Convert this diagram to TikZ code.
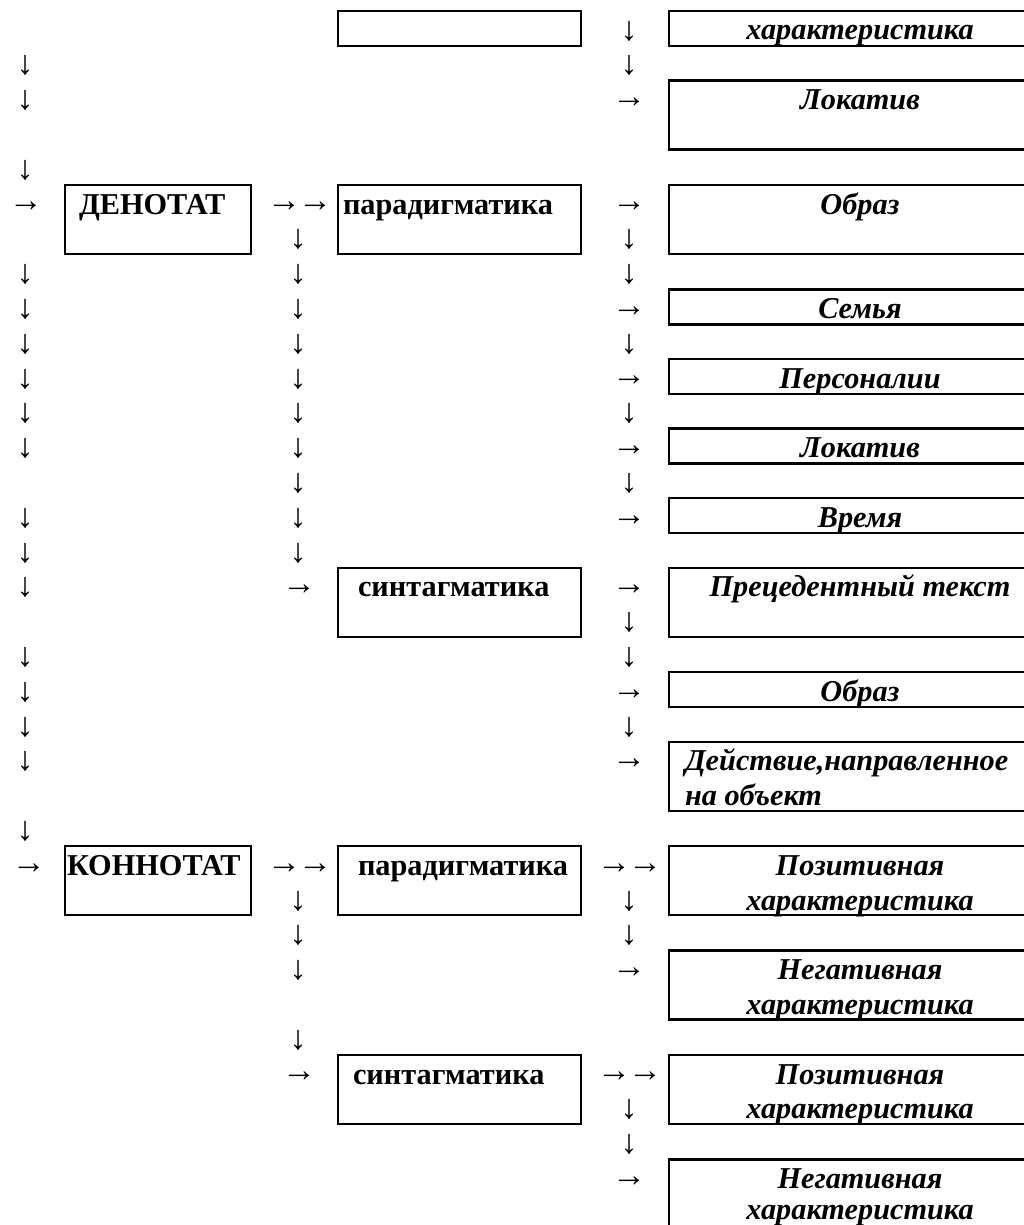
\documentclass[tikz,border=0pt]{standalone}
\usepackage{fontspec}
\setmainfont{Liberation Serif}
\begin{document}
\begin{tikzpicture}[x=1pt,y=-1pt,
  box/.style={draw, line width=2.5pt, inner sep=0pt, outer sep=0pt, anchor=north west, minimum height=35pt},
  tall/.style={box, minimum height=69pt},
  lbox/.style={minimum width=186pt},
  mbox/.style={minimum width=243pt},
  rbox/.style={minimum width=391pt},
  txt/.style={inner sep=0pt, outer sep=0pt, font=\fontsize{30.3}{34.8}\selectfont},
  lab/.style={txt, font=\fontsize{30.3}{34.8}\selectfont\bfseries, anchor=base west},
  itl/.style={txt, font=\fontsize{30.3}{34.8}\selectfont\bfseries\itshape, anchor=base},
  itlw/.style={txt, font=\fontsize{30.3}{34.8}\selectfont\bfseries\itshape, anchor=base west},
  arr/.style={inner sep=0pt, outer sep=0pt, font=\fontsize{34}{36}\selectfont},
  dn/.style={arr, anchor=center},
  rt/.style={arr, anchor=west, yshift=-2pt, xshift=-3pt},
]
\useasboundingbox (0,0) rectangle (1024,1225);
\fill[white] (0,0) rectangle (1024,1225);
\clip (0,0) rectangle (1024,1225);

% boxes
\node[box, mbox] (e0) at (338,11) {};
\node[box, rbox] (r1) at (669,11) {};
\node[tall, rbox] (r2) at (669,80.6) {};
\node[tall, lbox] (den) at (65,185) {};
\node[tall, mbox] (par1) at (338,185) {};
\node[tall, rbox] (r3) at (669,185) {};
\node[box, rbox] (r4) at (669,289.4) {};
\node[box, rbox] (r5) at (669,359) {};
\node[box, rbox] (r6) at (669,428.6) {};
\node[box, rbox] (r7) at (669,498.2) {};
\node[tall, mbox] (syn1) at (338,567.8) {};
\node[tall, rbox] (r8) at (669,567.8) {};
\node[box, rbox] (r9) at (669,672.2) {};
\node[tall, rbox] (r10) at (669,741.8) {};
\node[tall, lbox] (kon) at (65,846.2) {};
\node[tall, mbox] (par2) at (338,846.2) {};
\node[tall, rbox] (r11) at (669,846.2) {};
\node[tall, rbox] (r12) at (669,950.6) {};
\node[tall, mbox] (syn2) at (338,1055) {};
\node[tall, rbox] (r13) at (669,1055) {};
\node[tall, rbox] (r14) at (669,1159.4) {};

% box texts (baseline = 40 + 34.8*row)
\node[lab] (tden) at (79,214) {ДЕНОТАТ};
\node[lab] (tpar1) at (343,214) {парадигматика};
\node[lab] (tsyn1) at (358,596.8) {синтагматика};
\node[lab] (tkon) at (67,875.2) {КОННОТАТ};
\node[lab] (tpar2) at (358,875.2) {парадигматика};
\node[lab] (tsyn2) at (353,1084) {синтагматика};

\node[itl] (t1) at (860,40) {характеристика};
\node[itl] (t2) at (860,109.6) {Локатив};
\node[itl] (t3) at (860,214) {Образ};
\node[itl] (t4) at (860,318.4) {Семья};
\node[itl] (t5) at (860,388) {Персоналии};
\node[itl] (t6) at (860,457.6) {Локатив};
\node[itl] (t7) at (860,527.2) {Время};
\node[itl] (t8) at (860,596.8) {Прецедентный текст};
\node[itl] (t9) at (860,701.2) {Образ};
\node[itlw] (t10a) at (685,770.8) {Действие,направленное};
\node[itlw] (t10b) at (685,805.6) {на объект};
\node[itl] (t11a) at (860,875.2) {Позитивная};
\node[itl] (t11b) at (860,910) {характеристика};
\node[itl] (t12a) at (860,979.6) {Негативная};
\node[itl] (t12b) at (860,1014.4) {характеристика};
\node[itl] (t13a) at (860,1084) {Позитивная};
\node[itl] (t13b) at (860,1118.8) {характеристика};
\node[itl] (t14a) at (860,1188.4) {Негативная};
\node[itl] (t14b) at (860,1219.5) {характеристика};

% arrows: row centre = 31 + 34.8*row
% left column
\foreach \r in {1,2,4,7,8,9,10,11,12,14,15,16,18,19,20,21,23}
  \node[dn] (la\r) at (25,{31+34.8*\r}) {↓};
\node[rt] (lr5) at (12,205) {→};
\node[rt] (lr24) at (15,866.2) {→};

% middle column
\foreach \r in {6,...,15,25,26,27,29}
  \node[dn] (ma\r) at (298,{31+34.8*\r}) {↓};
\node[rt] (mr5) at (270,205) {→\kern-3pt→};
\node[rt] (mr16) at (285,587.8) {→};
\node[rt] (mr24) at (270,866.2) {→\kern-3pt→};
\node[rt] (mr30) at (285,1075) {→};

% right column
\foreach \r in {0,1,6,7,9,11,13,17,18,20,25,26,31,32}
  \node[dn] (ra\r) at (629,{31+34.8*\r}) {↓};
\foreach \r in {2,5,8,10,12,14,16,19,21,27,33}
  \node[rt] (rr\r) at (615,{31+34.8*\r}) {→};
\node[rt] (rr24) at (600,866.2) {→\kern-3pt→};
\node[rt] (rr30) at (600,1075) {→\kern-3pt→};
\end{tikzpicture}
\end{document}
